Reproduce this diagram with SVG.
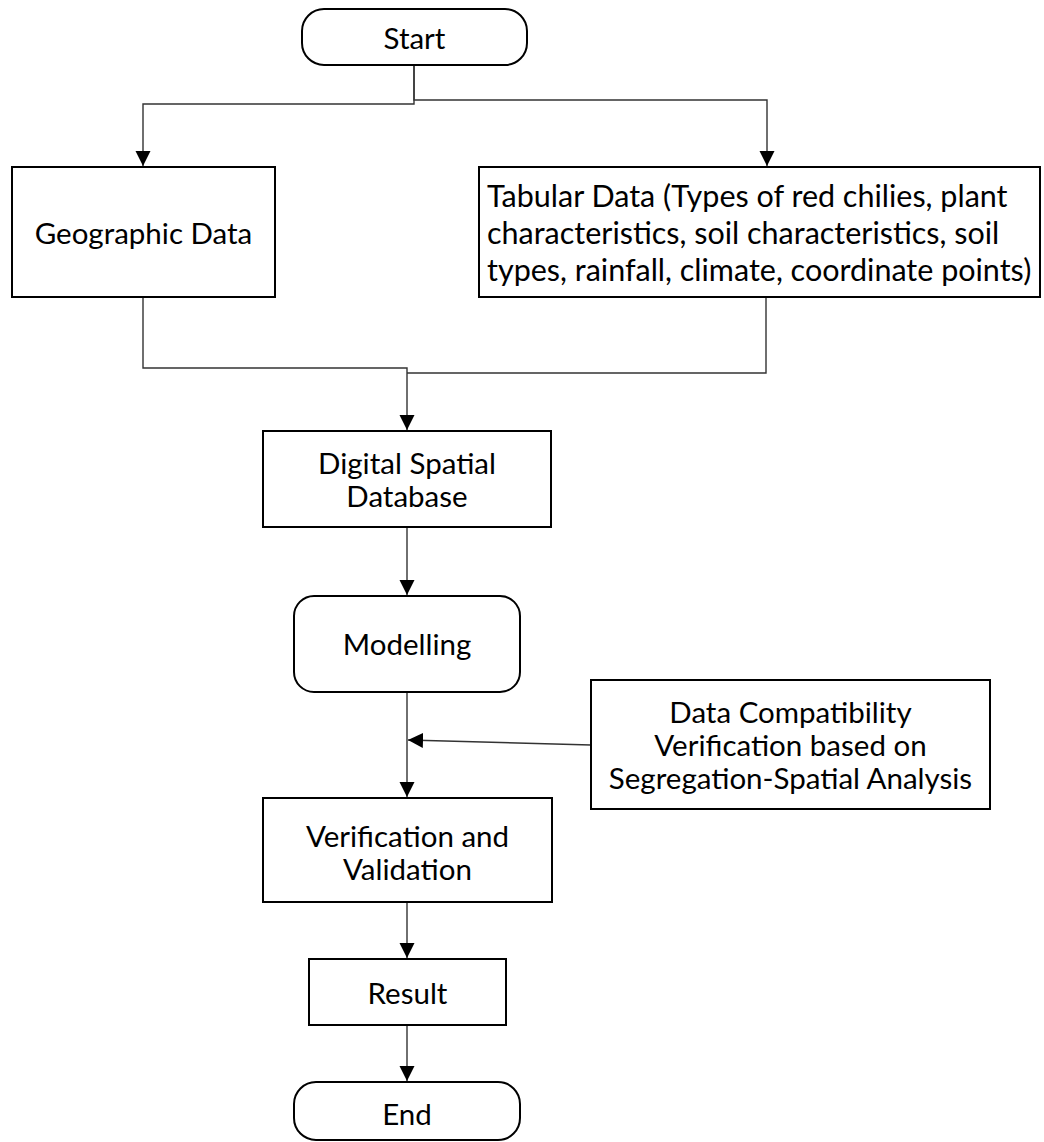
<svg xmlns="http://www.w3.org/2000/svg" width="1044" height="1142" viewBox="0 0 1044 1142">
  <style>
    .box { fill: #ffffff; stroke: #000000; stroke-width: 2; }
    .conn { fill: none; stroke: #333333; stroke-width: 1.4; }
    .t { font-family: "Lato", "Liberation Sans", sans-serif; font-size: 29.5px; fill: #000000; dominant-baseline: central; }
    .tab { font-size: 30.5px; }
    .c { text-anchor: middle; }
    .l { text-anchor: start; }
  </style>
  <defs>
    <marker id="arrow" markerUnits="userSpaceOnUse" markerWidth="18" markerHeight="18" refX="15" refY="7.5" orient="auto">
      <path d="M0,0 L15,7.5 L0,15 z" fill="#000000"/>
    </marker>
  </defs>
  <rect width="1044" height="1142" fill="#ffffff"/>

  <g id="connectors">
    <path class="conn" d="M414,65 V104 H143 V166" marker-end="url(#arrow)"/>
    <path class="conn" d="M414,65 V100 H767 V166" marker-end="url(#arrow)"/>
    <path class="conn" d="M143,297 V368 H407 V430" marker-end="url(#arrow)"/>
    <path class="conn" d="M766,297 V373 H407"/>
    <path class="conn" d="M407,527 V595" marker-end="url(#arrow)"/>
    <path class="conn" d="M407,692 V797" marker-end="url(#arrow)"/>
    <path class="conn" d="M591,745 L408,740" marker-end="url(#arrow)"/>
    <path class="conn" d="M407,902 V958" marker-end="url(#arrow)"/>
    <path class="conn" d="M407,1025 V1081" marker-end="url(#arrow)"/>
  </g>

  <g id="start">
    <rect class="box" x="302" y="9" width="225" height="56" rx="22" ry="22"/>
    <text class="t c" x="414.5" y="37">Start</text>
  </g>

  <g id="geographic-data">
    <rect class="box" x="12" y="167" width="263" height="130"/>
    <text class="t c" x="143.5" y="232">Geographic Data</text>
  </g>

  <g id="tabular-data">
    <rect class="box" x="479" y="167" width="561" height="130"/>
    <text class="t tab l" x="487" y="195">Tabular Data (Types of red chilies, plant</text>
    <text class="t tab l" x="487" y="232">characteristics, soil characteristics, soil</text>
    <text class="t tab l" x="487" y="269">types, rainfall, climate, coordinate points)</text>
  </g>

  <g id="digital-spatial-database">
    <rect class="box" x="263" y="431" width="288" height="96"/>
    <text class="t c" x="407" y="462">Digital Spatial</text>
    <text class="t c" x="407" y="495">Database</text>
  </g>

  <g id="modelling">
    <rect class="box" x="294" y="596" width="226" height="96" rx="20" ry="20"/>
    <text class="t c" x="407" y="643">Modelling</text>
  </g>

  <g id="data-compatibility">
    <rect class="box" x="591" y="680" width="399" height="129"/>
    <text class="t c" x="790.5" y="711">Data Compatibility</text>
    <text class="t c" x="790.5" y="744">Verification based on</text>
    <text class="t c" x="790.5" y="777">Segregation-Spatial Analysis</text>
  </g>

  <g id="verification-validation">
    <rect class="box" x="263" y="798" width="289" height="104"/>
    <text class="t c" x="407.5" y="835">Verification and</text>
    <text class="t c" x="407.5" y="868">Validation</text>
  </g>

  <g id="result">
    <rect class="box" x="309" y="959" width="197" height="66"/>
    <text class="t c" x="407.5" y="992">Result</text>
  </g>

  <g id="end">
    <rect class="box" x="294" y="1082" width="226" height="58" rx="22" ry="22"/>
    <text class="t c" x="407" y="1113">End</text>
  </g>
</svg>
